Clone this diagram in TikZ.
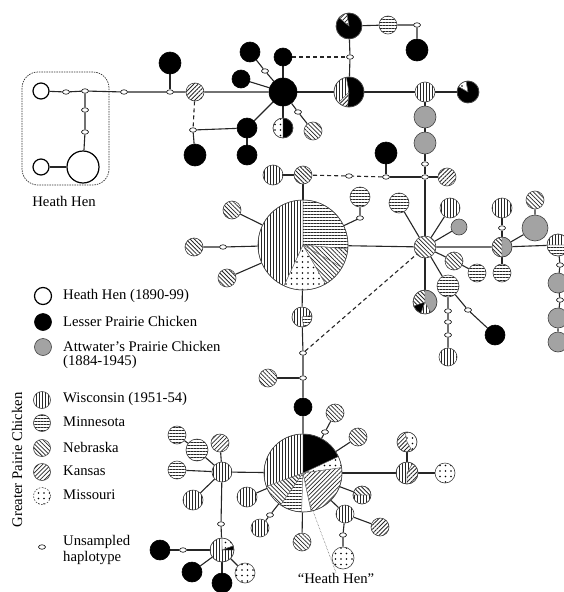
\documentclass[tikz,border=0pt]{standalone}
\usepackage{fontspec}
\setmainfont{Liberation Serif}
\usetikzlibrary{patterns.meta,shapes.geometric}
\definecolor{apcgrey}{gray}{0.64}
\pgfdeclarelayer{bg}
\pgfsetlayers{bg,main}
\newcommand\pslice[5]{\path[#5,draw=black!55,line width=0.35pt] (#1.center) -- ++(#3:#2pt) arc[start angle=#3,end angle=#4,radius=#2pt] -- cycle;}
\newcommand\pout[2]{\draw[black!75,line width=0.6pt] (#1.center) circle[radius=#2pt];}
\tikzset{
 base/.style={circle,inner sep=0pt,minimum size={2*#1},draw=black!75,line width=0.6pt},
 pwi/.style={pattern={Lines[angle=90,distance=3pt,line width=0.8pt]},pattern color=black!85},
 pmn/.style={pattern={Lines[angle=0,distance=3pt,line width=0.8pt]},pattern color=black!85},
 pne/.style={pattern={Lines[angle=-45,distance=3pt,line width=0.8pt]},pattern color=black!85},
 pks/.style={pattern={Lines[angle=45,distance=3pt,line width=0.8pt]},pattern color=black!85},
 pmo/.style={pattern={Dots[distance=5.5pt,radius=0.9pt]},pattern color=black},
 sblk/.style={fill=black},
 sgr/.style={fill=apcgrey},
 swh/.style={fill=white},
 hh/.style={base=#1,fill=white,draw=black,line width=1.2pt},
 lpc/.style={base=#1,fill=black,draw=black},
 apc/.style={base=#1,fill=apcgrey},
 wi/.style={base=#1,preaction={fill=white},pwi},
 mn/.style={base=#1,preaction={fill=white},pmn},
 ne/.style={base=#1,preaction={fill=white},pne},
 ks/.style={base=#1,preaction={fill=white},pks},
 mo/.style={base=#1,preaction={fill=white},pmo},
 pie/.style={base=#1,fill=white,draw=none},
 uns/.style={ellipse,inner sep=0pt,minimum width=7pt,minimum height=4.5pt,draw=black,fill=white,line width=0.6pt},
 edge/.style={line width=1.1pt,draw=black!85},
 dedge/.style={edge,dash pattern=on 4pt off 3pt},
 lab/.style={inner sep=0pt,font=\fontsize{14.7}{15}\selectfont},
}
\begin{document}
\begin{tikzpicture}[x=1pt,y=-1pt]
\useasboundingbox (0,0) rectangle (563,592);
% ---------- Heath Hen group
\node[hh=8] (h1) at (41,91) {};
\node[uns] (u1) at (66,92) {};
\node[uns] (u2) at (85,91) {};
\node[uns] (u3) at (85,110) {};
\node[uns] (u4) at (85,132) {};
\node[hh=16] (h2) at (83,167) {};
\node[hh=8] (h3) at (41,167) {};
\node[uns] (u5) at (124,92) {};
\node[uns] (u6) at (170,92) {};
\draw[black!80,line width=0.7pt,dash pattern=on 1.5pt off 1pt,rounded corners=16pt] (22,72) rectangle (109,185);
\node[lab] (hhbox) at (64,201) {Heath Hen};
% ---------- top cluster
\node[lpc=11] (b1) at (170,63) {};
\node[ks=9] (k1) at (195,92) {};
\node[uns] (u7) at (193,130) {};
\node[lpc=11] (b2) at (195,155) {};
\node[lpc=14] (B) at (283,92) {};
\node[lpc=10] (b3) at (250,52) {};
\node[uns] (u8) at (265,71) {};
\node[lpc=9] (b4) at (241,79) {};
\node[lpc=9] (b5) at (283,57) {};
\node[lpc=10] (b6) at (247,128) {};
\node[lpc=10] (b7) at (247,155) {};
\node[pie=10] (m1) at (283,128) {};
\node[uns] (u10) at (298,112) {};
\node[ne=9] (n1) at (313,131) {};
\node[pie=15] (P1) at (349,92) {};
\node[pie=13] (P2) at (349,26) {};
\node[uns] (u9) at (350,57) {};
\node[mn=9] (mn1) at (388,25) {};
\node[uns] (u11) at (417,25) {};
\node[lpc=11] (b8) at (417,50) {};
\node[wi=10] (w1) at (425,92) {};
\node[pie=11] (b9) at (468,92) {};
\node[apc=11] (g1) at (425,117) {};
\node[apc=11] (g2) at (425,143) {};
\node[uns] (u12) at (425,164) {};
\node[uns] (u13) at (425,177) {};
\node[lpc=11] (b10) at (386,153) {};
\node[uns] (u14) at (386,177) {};
\node[uns] (u15) at (349,176) {};
\node[ks=9] (k2) at (447,177) {};
\node[wi=10] (w2) at (273,175) {};
\node[ne=9] (n2) at (303,175) {};
% ---------- big central pie
\node[pie=45] (BP) at (303,245) {};
\node[mn=10] (mn2) at (360,197) {};
\node[uns] (u16) at (360,218) {};
\node[ne=9] (n3) at (232,210) {};
\node[ne=9] (n4) at (194,247) {};
\node[uns] (u17) at (223,247) {};
\node[ne=9] (n5) at (227,278) {};
\node[pie=10] (p3) at (302,317) {};
\node[uns] (u18) at (303,353) {};
\node[uns] (u19) at (303,378) {};
\node[ne=9] (n6) at (268,378) {};
\node[lpc=9] (b11) at (303,407) {};
% ---------- star (right)
\node[ne=11] (S) at (425,247) {};
\node[mn=10] (mn3) at (399,203) {};
\node[wi=10] (w3) at (450,208) {};
\node[apc=8] (g3) at (459,227) {};
\node[ne=9] (n7) at (454,261) {};
\node[mn=9] (mn4) at (477,273) {};
\node[mn=11] (mn5) at (448,286) {};
\node[uns] (u20) at (448,311) {};
\node[uns] (u21) at (448,322) {};
\node[uns] (u22) at (448,335) {};
\node[wi=9] (w4) at (448,357) {};
\node[uns] (u23) at (468,310) {};
\node[lpc=10] (b12) at (495,335) {};
\node[pie=12] (P4) at (425,302) {};
\node[pie=10] (P5) at (502,247) {};
\node[wi=10] (w5) at (502,208) {};
\node[uns] (u24) at (502,228) {};
\node[mn=9] (mn6) at (502,273) {};
\node[apc=13] (g4) at (535,228) {};
\node[ne=9] (n8) at (535,200) {};
\node[pie=11] (P6) at (558,245) {};
\coordinate (rt) at (563,247);
\node[uns] (u25) at (560,265) {};
\node[apc=10] (g5) at (558,283) {};
\node[uns] (u26) at (560,300) {};
\node[apc=10] (g6) at (558,318) {};
\node[apc=10] (g7) at (558,342) {};
% ---------- lower pie
\node[pie=39] (BP2) at (303,473) {};
\node[ne=9] (n9) at (335,413) {};
\node[uns] (u27) at (325,432) {};
\node[ne=9] (n10) at (358,437) {};
\node[pie=9] (NW) at (362,495) {};
\node[wi=9] (w6) at (345,514) {};
\node[ks=9] (k3) at (380,527) {};
\node[uns] (u28) at (343,535) {};
\node[mo=11] (mo1) at (343,558) {};
\node[ne=9] (n11) at (302,542) {};
\node[wi=10] (w7) at (247,497) {};
\node[uns] (u29) at (270,515) {};
\node[wi=9] (w8) at (260,528) {};
\node[pie=11] (R) at (407,473) {};
\node[pie=10] (k4) at (407,442) {};
\node[mo=10] (mo2) at (445,473) {};
\node[wi=10] (W) at (222,472) {};
\node[ks=9] (k5) at (220,443) {};
\node[mn=11] (mn7) at (197,450) {};
\node[mn=9] (mn8) at (177,435) {};
\node[mn=9] (mn9) at (177,470) {};
\node[wi=10] (w9) at (193,500) {};
\node[uns] (u30) at (221,524) {};
\node[pie=12] (M) at (222,550) {};
\node[uns] (u31) at (183,550) {};
\node[lpc=10] (b13) at (160,550) {};
\node[lpc=10] (b14) at (192,572) {};
\node[lpc=10] (b15) at (222,583) {};
\node[mo=10] (mo3) at (245,573) {};
\coordinate (hhl) at (310,503);
\node[lab] (hhq) at (336,578) {``Heath Hen''};
% ---------- pie slices
\pslice{m1}{10}{90}{270}{pmo}\pslice{m1}{10}{-90}{90}{sblk}\pout{m1}{10}
\pslice{P1}{15}{100}{225}{pwi}\pslice{P1}{15}{225}{265}{pks}\pslice{P1}{15}{265}{460}{sblk}\pout{P1}{15}
\pslice{P2}{13}{140}{460}{sblk}\pslice{P2}{13}{100}{140}{pks}\pout{P2}{13}
\pslice{b9}{11}{150}{460}{sblk}\pslice{b9}{11}{100}{150}{pmo}\pout{b9}{11}
\pslice{BP}{45}{90}{245}{pwi}\pslice{BP}{45}{245}{300}{pmo}\pslice{BP}{45}{300}{330}{pne}\pslice{BP}{45}{330}{355}{pne}\pslice{BP}{45}{355}{450}{pmn}\pout{BP}{45}
\pslice{p3}{10}{10}{280}{pwi}\pslice{p3}{10}{280}{370}{pmn}\pout{p3}{10}
\pslice{P4}{12}{90}{200}{pne}\pslice{P4}{12}{200}{250}{sblk}\pslice{P4}{12}{250}{300}{pwi}\pslice{P4}{12}{300}{450}{sgr}\pout{P4}{12}
\pslice{P5}{10}{90}{270}{pne}\pslice{P5}{10}{270}{450}{sgr}\pout{P5}{10}
\pslice{P6}{11}{0}{180}{pwi}\pslice{P6}{11}{180}{360}{pmn}\pout{P6}{11}
\pslice{BP2}{39}{90}{200}{pwi}\pslice{BP2}{39}{200}{235}{pne}\pslice{BP2}{39}{235}{268}{pmn}\pslice{BP2}{39}{268}{282}{swh}\pslice{BP2}{39}{282}{368}{pks}\pslice{BP2}{39}{368}{385}{pmo}\pslice{BP2}{39}{385}{450}{sblk}\pout{BP2}{39}
\pslice{NW}{9}{0}{180}{pne}\pslice{NW}{9}{180}{360}{pwi}\pout{NW}{9}
\pslice{R}{11}{60}{270}{pwi}\pslice{R}{11}{270}{420}{pks}\pout{R}{11}
\pslice{k4}{10}{100}{300}{pks}\pslice{k4}{10}{300}{460}{pmo}\pout{k4}{10}
\pslice{M}{12}{90}{380}{pwi}\pslice{M}{12}{20}{90}{pmo}\pslice{M}{12}{0}{20}{sblk}\pout{M}{12}
% ---------- legend
\node[hh=8.5] (l1) at (43,296) {};
\node[lab,anchor=west] (t1) at (63,296) {Heath Hen (1890-99)};
\node[lpc=8.5] (l2) at (43,322) {};
\node[lab,anchor=west] (t2) at (63,321) {Lesser Prairie Chicken};
\node[apc=8.5] (l3) at (43,347) {};
\node[lab,anchor=west] (t3) at (63,346) {Attwater's Prairie Chicken};
\node[lab,anchor=west] (t3b) at (63,362) {(1884-1945)};
\node[wi=8.5] (l4) at (42,400) {};
\node[lab,anchor=west] (t4) at (63,399) {Wisconsin (1951-54)};
\node[mn=8.5] (l5) at (42,423) {};
\node[lab,anchor=west] (t5) at (63,422) {Minnesota};
\node[ne=8.5] (l6) at (42,448) {};
\node[lab,anchor=west] (t6) at (63,447) {Nebraska};
\node[ks=8.5] (l7) at (42,472) {};
\node[lab,anchor=west] (t7) at (63,471) {Kansas};
\node[mo=8.5,dash pattern=on 1.5pt off 1.5pt] (l8) at (42,496) {};
\node[lab,anchor=west] (t8) at (63,495) {Missouri};
\node[uns] (l9) at (42,547) {};
\node[lab,anchor=west] (t9) at (63,542) {Unsampled};
\node[lab,anchor=west] (t9b) at (63,558) {haplotype};
\node[lab,rotate=90] (gpc) at (17,460) {Greater Pairie Chicken};
% ---------- connectors
\begin{pgfonlayer}{bg}
\draw[edge] (h1) -- (u1) -- (u2) -- (u5) -- (u6) -- (k1) -- (B);
\draw[edge] (u2) -- (u3) -- (u4) -- (h2);
\draw[edge] (h3) -- (h2);
\draw[edge] (b1) -- (u6);
\draw[dedge] (k1) -- (u7);
\draw[edge] (u7) -- (b2);
\draw[edge] (u7) -- (b6);
\draw[edge] (b6) -- (B);
\draw[edge] (b6) -- (b7);
\draw[edge] (B) -- (u8) -- (b3);
\draw[edge] (B) -- (b4);
\draw[edge] (B) -- (b5);
\draw[dedge] (b5) -- (u9);
\draw[edge] (B) -- (m1);
\draw[edge] (B) -- (u10) -- (n1);
\draw[edge] (B) -- (P1);
\draw[edge] (P1) -- (u9) -- (P2);
\draw[edge] (P2) -- (mn1) -- (u11) -- (b8);
\draw[edge] (P1) -- (w1) -- (b9);
\draw[edge] (w1) -- (g1) -- (g2) -- (u12) -- (u13) -- (S);
\draw[edge] (u13) -- (k2);
\draw[edge] (u13) -- (u14);
\draw[edge] (b10) -- (u14);
\draw[dedge] (u14) -- (u15) -- (n2);
\draw[edge] (n2) -- (w2);
\draw[edge] (n2) -- (BP);
\draw[edge] (BP) -- (u16) -- (mn2);
\draw[edge] (BP) -- (n3);
\draw[edge] (BP) -- (u17) -- (n4);
\draw[edge] (BP) -- (n5);
\draw[edge] (BP) -- (S);
\draw[edge] (BP) -- (p3) -- (u18) -- (u19) -- (b11) -- (BP2);
\draw[dedge] (u18) -- (S);
\draw[edge] (u19) -- (n6);
\draw[edge] (S) -- (mn3);
\draw[edge] (S) -- (w3);
\draw[edge] (S) -- (g3);
\draw[edge] (S) -- (n7) -- (mn4);
\draw[edge] (S) -- (mn5) -- (u20) -- (u21) -- (u22) -- (w4);
\draw[edge] (mn5) -- (u23) -- (b12);
\draw[edge] (S) -- (P4);
\draw[edge] (S) -- (P5) -- (P6) -- (rt);
\draw[edge] (P5) -- (u24) -- (w5);
\draw[edge] (P5) -- (mn6);
\draw[edge] (P5) -- (g4) -- (n8);
\draw[edge] (P6) -- (u25) -- (g5) -- (u26) -- (g6) -- (g7);
\draw[edge] (BP2) -- (u27) -- (n9);
\draw[edge] (BP2) -- (n10);
\draw[edge] (BP2) -- (NW);
\draw[edge] (BP2) -- (w6) -- (k3);
\draw[edge] (w6) -- (u28) -- (mo1);
\draw[edge] (BP2) -- (n11);
\draw[edge] (BP2) -- (w7);
\draw[edge] (BP2) -- (u29) -- (w8);
\draw[edge] (BP2) -- (R) -- (mo2);
\draw[edge] (R) -- (k4);
\draw[edge] (BP2) -- (W);
\draw[edge] (W) -- (k5);
\draw[edge] (W) -- (mn7) -- (mn8);
\draw[edge] (W) -- (mn9);
\draw[edge] (W) -- (w9);
\draw[edge] (W) -- (u30) -- (M);
\draw[edge] (M) -- (u31) -- (b13);
\draw[edge] (M) -- (b14);
\draw[edge] (M) -- (b15);
\draw[edge] (M) -- (mo3);
\end{pgfonlayer}
\draw[black!70,line width=0.5pt,densely dotted] (hhl) -- (hhq.north);
\end{tikzpicture}
\end{document}
